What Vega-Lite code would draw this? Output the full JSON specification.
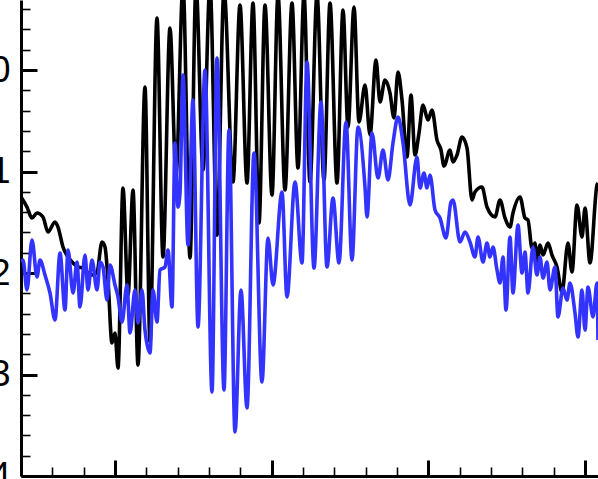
{
"$schema":"https://vega.github.io/schema/vega-lite/v6.json",
"width":577,"height":476,
"autosize":{"type":"none"},
"padding":{"left":21,"top":0,"right":0,"bottom":3},
"config":{"view":{"stroke":null},"axis":{"domainColor":"#000000","tickColor":"#000000","labelColor":"#000000","grid":false,"title":null}},
"data":{"values":[
{"s":"A","x":7.000,"y":1.251},{"s":"A","x":7.191,"y":1.350},{"s":"A","x":7.351,"y":1.458},{"s":"A","x":7.511,"y":1.409},{"s":"A","x":7.702,"y":1.448},{"s":"A","x":7.862,"y":1.596},{"s":"A","x":8.085,"y":1.498},{"s":"A","x":8.181,"y":1.547},{"s":"A","x":8.340,"y":1.744},{"s":"A","x":8.500,"y":1.842},{"s":"A","x":8.660,"y":1.901},{"s":"A","x":8.819,"y":1.941},{"s":"A","x":8.979,"y":1.951},{"s":"A","x":9.138,"y":2.000},{"s":"A","x":9.266,"y":2.020},{"s":"A","x":9.426,"y":1.990},{"s":"A","x":9.585,"y":1.695},{"s":"A","x":9.681,"y":1.744},{"s":"A","x":9.777,"y":2.069},{"s":"A","x":9.904,"y":2.690},{"s":"A","x":10.000,"y":2.591},{"s":"A","x":10.096,"y":2.936},{"s":"A","x":10.255,"y":1.163},{"s":"A","x":10.415,"y":2.217},{"s":"A","x":10.574,"y":1.182},{"s":"A","x":10.734,"y":2.906},{"s":"A","x":10.957,"y":0.167},{"s":"A","x":11.117,"y":2.680},{"s":"A","x":11.340,"y":-0.512},{"s":"A","x":11.532,"y":1.842},{"s":"A","x":11.755,"y":-0.414},{"s":"A","x":11.947,"y":1.034},{"s":"A","x":12.170,"y":-0.837},{"s":"A","x":12.394,"y":1.852},{"s":"A","x":12.585,"y":-0.837},{"s":"A","x":12.809,"y":0.985},{"s":"A","x":13.032,"y":-0.837},{"s":"A","x":13.255,"y":1.626},{"s":"A","x":13.479,"y":-0.788},{"s":"A","x":13.766,"y":1.103},{"s":"A","x":13.989,"y":-0.640},{"s":"A","x":14.213,"y":1.113},{"s":"A","x":14.404,"y":-0.660},{"s":"A","x":14.596,"y":1.507},{"s":"A","x":14.787,"y":-0.640},{"s":"A","x":15.011,"y":1.232},{"s":"A","x":15.202,"y":-0.739},{"s":"A","x":15.426,"y":1.182},{"s":"A","x":15.649,"y":-0.660},{"s":"A","x":15.840,"y":0.966},{"s":"A","x":16.032,"y":-0.739},{"s":"A","x":16.223,"y":1.103},{"s":"A","x":16.447,"y":-0.739},{"s":"A","x":16.670,"y":1.084},{"s":"A","x":16.862,"y":-0.660},{"s":"A","x":17.085,"y":1.113},{"s":"A","x":17.277,"y":-0.591},{"s":"A","x":17.436,"y":0.562},{"s":"A","x":17.628,"y":-0.621},{"s":"A","x":17.787,"y":0.512},{"s":"A","x":17.979,"y":0.148},{"s":"A","x":18.138,"y":0.640},{"s":"A","x":18.330,"y":-0.099},{"s":"A","x":18.457,"y":0.315},{"s":"A","x":18.617,"y":0.099},{"s":"A","x":18.777,"y":0.227},{"s":"A","x":18.904,"y":0.473},{"s":"A","x":19.032,"y":0.020},{"s":"A","x":19.160,"y":0.296},{"s":"A","x":19.319,"y":0.857},{"s":"A","x":19.447,"y":0.246},{"s":"A","x":19.574,"y":0.837},{"s":"A","x":19.702,"y":0.621},{"s":"A","x":19.830,"y":0.345},{"s":"A","x":19.989,"y":0.493},{"s":"A","x":20.117,"y":0.394},{"s":"A","x":20.277,"y":0.690},{"s":"A","x":20.404,"y":0.788},{"s":"A","x":20.500,"y":0.946},{"s":"A","x":20.692,"y":0.788},{"s":"A","x":20.787,"y":0.906},{"s":"A","x":20.915,"y":0.837},{"s":"A","x":21.075,"y":0.660},{"s":"A","x":21.234,"y":0.768},{"s":"A","x":21.394,"y":1.281},{"s":"A","x":21.489,"y":1.202},{"s":"A","x":21.713,"y":1.153},{"s":"A","x":21.872,"y":1.350},{"s":"A","x":22.128,"y":1.448},{"s":"A","x":22.287,"y":1.281},{"s":"A","x":22.447,"y":1.458},{"s":"A","x":22.606,"y":1.547},{"s":"A","x":22.702,"y":1.409},{"s":"A","x":22.926,"y":1.251},{"s":"A","x":23.085,"y":1.458},{"s":"A","x":23.181,"y":1.478},{"s":"A","x":23.309,"y":1.754},{"s":"A","x":23.404,"y":1.704},{"s":"A","x":23.468,"y":1.901},{"s":"A","x":23.564,"y":1.724},{"s":"A","x":23.660,"y":1.823},{"s":"A","x":23.819,"y":1.704},{"s":"A","x":23.947,"y":1.823},{"s":"A","x":24.106,"y":1.941},{"s":"A","x":24.266,"y":2.187},{"s":"A","x":24.457,"y":1.704},{"s":"A","x":24.585,"y":1.990},{"s":"A","x":24.745,"y":1.330},{"s":"A","x":24.904,"y":1.645},{"s":"A","x":25.000,"y":1.360},{"s":"A","x":25.160,"y":1.901},{"s":"A","x":25.383,"y":1.133},{"s":"A","x":25.415,"y":1.113},
{"s":"B","x":7.000,"y":1.892},{"s":"B","x":7.064,"y":1.872},{"s":"B","x":7.191,"y":2.167},{"s":"B","x":7.351,"y":1.675},{"s":"B","x":7.511,"y":2.039},{"s":"B","x":7.606,"y":1.872},{"s":"B","x":7.766,"y":2.020},{"s":"B","x":7.926,"y":2.197},{"s":"B","x":8.085,"y":2.463},{"s":"B","x":8.245,"y":1.803},{"s":"B","x":8.404,"y":2.365},{"s":"B","x":8.500,"y":1.773},{"s":"B","x":8.660,"y":2.197},{"s":"B","x":8.787,"y":1.892},{"s":"B","x":8.883,"y":2.335},{"s":"B","x":9.043,"y":1.823},{"s":"B","x":9.138,"y":2.167},{"s":"B","x":9.266,"y":1.872},{"s":"B","x":9.426,"y":2.167},{"s":"B","x":9.521,"y":1.892},{"s":"B","x":9.617,"y":1.941},{"s":"B","x":9.745,"y":2.266},{"s":"B","x":9.840,"y":1.921},{"s":"B","x":10.000,"y":2.118},{"s":"B","x":10.096,"y":2.236},{"s":"B","x":10.223,"y":2.483},{"s":"B","x":10.383,"y":2.118},{"s":"B","x":10.479,"y":2.591},{"s":"B","x":10.638,"y":2.167},{"s":"B","x":10.734,"y":2.493},{"s":"B","x":10.862,"y":2.167},{"s":"B","x":10.957,"y":2.562},{"s":"B","x":11.117,"y":2.788},{"s":"B","x":11.213,"y":2.167},{"s":"B","x":11.340,"y":2.483},{"s":"B","x":11.436,"y":1.970},{"s":"B","x":11.596,"y":1.941},{"s":"B","x":11.691,"y":1.773},{"s":"B","x":11.819,"y":2.335},{"s":"B","x":11.915,"y":0.719},{"s":"B","x":12.011,"y":1.350},{"s":"B","x":12.074,"y":1.212},{"s":"B","x":12.170,"y":0.049},{"s":"B","x":12.330,"y":1.724},{"s":"B","x":12.489,"y":0.296},{"s":"B","x":12.649,"y":2.532},{"s":"B","x":12.872,"y":0.000},{"s":"B","x":13.096,"y":3.172},{"s":"B","x":13.255,"y":-0.118},{"s":"B","x":13.479,"y":3.153},{"s":"B","x":13.638,"y":0.591},{"s":"B","x":13.830,"y":3.567},{"s":"B","x":14.021,"y":2.167},{"s":"B","x":14.213,"y":3.330},{"s":"B","x":14.436,"y":0.818},{"s":"B","x":14.691,"y":3.074},{"s":"B","x":14.883,"y":1.655},{"s":"B","x":15.043,"y":2.118},{"s":"B","x":15.330,"y":1.202},{"s":"B","x":15.489,"y":2.236},{"s":"B","x":15.745,"y":1.103},{"s":"B","x":15.968,"y":1.901},{"s":"B","x":16.128,"y":-0.079},{"s":"B","x":16.351,"y":1.951},{"s":"B","x":16.574,"y":0.315},{"s":"B","x":16.766,"y":1.941},{"s":"B","x":16.957,"y":1.261},{"s":"B","x":17.149,"y":1.901},{"s":"B","x":17.372,"y":0.512},{"s":"B","x":17.564,"y":1.872},{"s":"B","x":17.755,"y":0.562},{"s":"B","x":17.979,"y":1.153},{"s":"B","x":18.043,"y":1.448},{"s":"B","x":18.202,"y":0.621},{"s":"B","x":18.394,"y":1.064},{"s":"B","x":18.553,"y":0.788},{"s":"B","x":18.713,"y":1.084},{"s":"B","x":18.872,"y":0.719},{"s":"B","x":19.032,"y":0.463},{"s":"B","x":19.192,"y":0.719},{"s":"B","x":19.415,"y":1.330},{"s":"B","x":19.638,"y":0.857},{"s":"B","x":19.734,"y":1.163},{"s":"B","x":19.862,"y":1.015},{"s":"B","x":19.957,"y":1.163},{"s":"B","x":20.053,"y":1.034},{"s":"B","x":20.213,"y":1.379},{"s":"B","x":20.372,"y":1.458},{"s":"B","x":20.564,"y":1.655},{"s":"B","x":20.723,"y":1.300},{"s":"B","x":20.787,"y":1.281},{"s":"B","x":21.011,"y":1.695},{"s":"B","x":21.170,"y":1.596},{"s":"B","x":21.330,"y":1.695},{"s":"B","x":21.489,"y":1.842},{"s":"B","x":21.585,"y":1.645},{"s":"B","x":21.745,"y":1.892},{"s":"B","x":21.872,"y":1.704},{"s":"B","x":21.968,"y":1.842},{"s":"B","x":22.064,"y":1.744},{"s":"B","x":22.191,"y":1.970},{"s":"B","x":22.287,"y":2.099},{"s":"B","x":22.383,"y":1.842},{"s":"B","x":22.479,"y":2.365},{"s":"B","x":22.606,"y":1.645},{"s":"B","x":22.702,"y":2.197},{"s":"B","x":22.862,"y":1.527},{"s":"B","x":22.989,"y":2.000},{"s":"B","x":23.085,"y":1.793},{"s":"B","x":23.181,"y":2.197},{"s":"B","x":23.340,"y":1.744},{"s":"B","x":23.468,"y":2.020},{"s":"B","x":23.564,"y":1.842},{"s":"B","x":23.660,"y":2.049},{"s":"B","x":23.787,"y":1.892},{"s":"B","x":23.883,"y":2.167},{"s":"B","x":24.043,"y":1.941},{"s":"B","x":24.138,"y":2.433},{"s":"B","x":24.298,"y":2.148},{"s":"B","x":24.426,"y":2.266},{"s":"B","x":24.521,"y":2.099},{"s":"B","x":24.681,"y":2.394},{"s":"B","x":24.777,"y":2.631},{"s":"B","x":24.904,"y":2.167},{"s":"B","x":25.000,"y":2.562},{"s":"B","x":25.096,"y":2.138},{"s":"B","x":25.255,"y":2.433},{"s":"B","x":25.383,"y":2.099},{"s":"B","x":25.415,"y":2.660}
]},
"mark":{"type":"line","clip":true,"strokeWidth":3.6,"interpolate":"monotone"},
"encoding":{
"x":{"field":"x","type":"quantitative",
 "scale":{"domain":[7,25.415],"nice":false,"zero":false},
 "axis":{"values":[7,8,9,10,11,12,13,14,15,16,17,18,19,20,21,22,23,24,25],"labels":false,"domainWidth":3,
  "tickSize":{"condition":{"test":"datum.value % 5 === 0","value":-16},"value":-9},
  "tickWidth":{"condition":{"test":"datum.value % 5 === 0","value":3},"value":1.6}}},
"y":{"field":"y","type":"quantitative",
 "scale":{"domain":[-0.69,4.0],"reverse":true,"nice":false,"zero":false},
 "axis":{"values":[-0.6,-0.4,-0.2,0,0.2,0.4,0.6,0.8,1,1.2,1.4,1.6,1.8,2,2.2,2.4,2.6,2.8,3,3.2,3.4,3.6,3.8,4],
  "labelExpr":"abs(datum.value - round(datum.value)) < 0.001 ? format(datum.value, 'd') : ''",
  "labelOverlap":false,"labelBound":false,"labelFlush":false,
  "labelFont":"Liberation Sans","labelFontSize":36,"labelPadding":27,"domainWidth":3,
  "tickSize":{"condition":{"test":"abs(datum.value - round(datum.value)) < 0.001","value":-16},"value":-9},
  "tickWidth":{"condition":{"test":"abs(datum.value - round(datum.value)) < 0.001","value":3},"value":1.6}}},
"color":{"field":"s","type":"nominal","scale":{"domain":["A","B"],"range":["#000000","#3333ff"]},"legend":null}
}
}
